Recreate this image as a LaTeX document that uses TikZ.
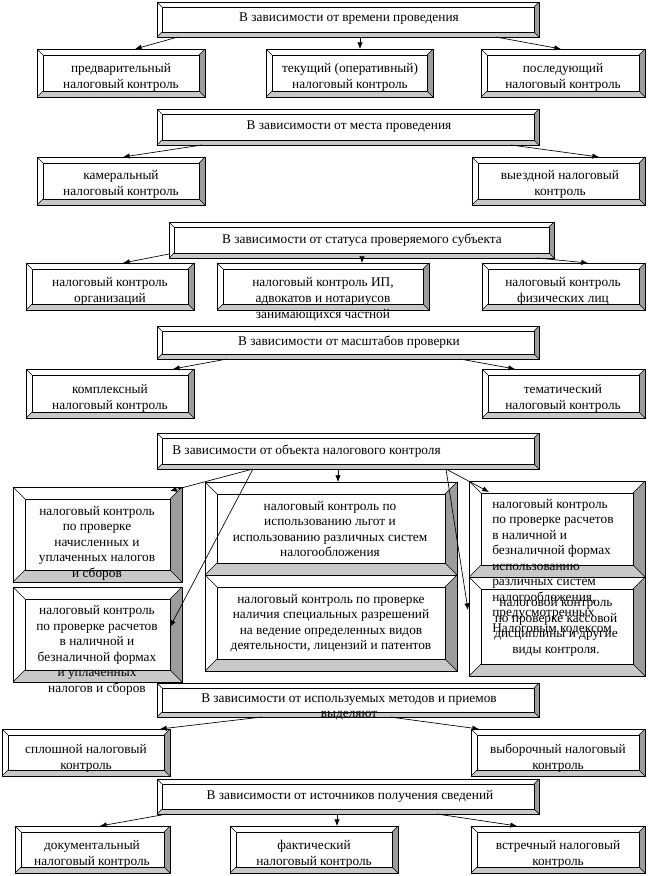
\documentclass[tikz,border=0pt]{standalone}
\usepackage{fontspec}
\setmainfont{Liberation Serif}
\usetikzlibrary{arrows.meta,calc,fit}
\definecolor{bdark}{HTML}{9C9C9C}
\definecolor{blight}{HTML}{C8C8C8}
\tikzset{
  frame/.style={draw, fill=white, inner sep=0pt, outer sep=0pt, line width=0.6pt},
  txt/.style={inner sep=0pt, align=center, font=\fontsize{10}{12}\selectfont},
  txtf/.style={inner sep=0pt, align=center, font=\fontsize{10}{11.6}\selectfont},
  arr/.style={-{Latex[length=5pt,width=4pt]}, line width=0.5pt},
}
\newcommand\bbox[6]{%
  \node[frame, fit={(#2,#3) (#4,#5)}] (#1) {};
  \fill[bdark] (#1.north east) -- (#1.south east) -- ++(-#6,-#6) -- ($(#1.north east)+(-#6,#6)$) -- cycle;
  \fill[blight] (#1.south west) -- (#1.south east) -- ++(-#6,-#6) -- ($(#1.south west)+(#6,-#6)$) -- cycle;
  \draw[line width=0.6pt] ($(#1.north west)+(#6,#6)$) rectangle ($(#1.south east)+(-#6,-#6)$);
  \draw[line width=0.5pt] (#1.north west) -- ++(#6,#6) (#1.north east) -- ++(-#6,#6)
        (#1.south west) -- ++(#6,-#6) (#1.south east) -- ++(-#6,-#6);
  \draw[line width=0.6pt] (#1.north west) rectangle (#1.south east);
}
\begin{document}
\begin{tikzpicture}[x=0.75pt,y=-0.75pt]
\useasboundingbox (0,0) rectangle (652,876);
% ---------- boxes ----------
\bbox{h1}{157}{2}{539}{37}{5}
\bbox{a1}{37}{49}{205}{97}{6}
\bbox{a2}{266}{49}{433}{97}{6}
\bbox{a3}{481}{49}{645}{97}{6}
\bbox{h2}{157}{109}{539}{145}{5}
\bbox{b1}{37}{157}{205}{205}{6}
\bbox{b2}{472}{157}{645}{205}{6}
\bbox{h3}{169}{222}{554}{258}{5}
\bbox{c1}{26}{263}{194}{310}{6}
\bbox{c2}{217}{263}{429}{310}{6}
\bbox{c3}{482}{263}{645}{310}{6}
\bbox{h4}{157}{326}{539}{359}{5}
\bbox{d1}{26}{369}{194}{418}{6}
\bbox{d2}{482}{369}{645}{418}{6}
\bbox{h5}{157}{433}{539}{469}{5}
\bbox{e1}{13}{487}{182}{582}{12}
\bbox{e2}{13}{587}{182}{682}{12}
\bbox{m1}{205}{482}{457}{575}{12}
\bbox{m2}{205}{575}{457}{671}{12}
\bbox{r1}{469}{481}{645}{577}{12}
\bbox{r2}{469}{577}{645}{676}{12}
\bbox{h6}{157}{683}{539}{717}{5}
\bbox{f1}{2}{729}{170}{776}{6}
\bbox{f2}{471}{729}{645}{776}{6}
\bbox{h7}{157}{779}{539}{814}{5}
\bbox{g1}{15}{826}{170}{873}{6}
\bbox{g2}{230}{826}{398}{873}{6}
\bbox{g3}{471}{826}{645}{873}{6}
% ---------- texts ----------
\node[txt] (t-h1) at (349,19) {В зависимости от времени проведения};
\node[txt] (t-a1) at (121,77) {предварительный\\налоговый контроль};
\node[txt] (t-a2) at (350,77) {текущий (оперативный)\\налоговый контроль};
\node[txt] (t-a3) at (563,77) {последующий\\налоговый контроль};
\node[txt] (t-h2) at (349,127) {В зависимости от места проведения};
\node[txt] (t-b1) at (121,184.5) {камеральный\\налоговый контроль};
\node[txt] (t-b2) at (560,184.5) {выездной налоговый\\контроль};
\node[txt] (t-h3) at (362,240) {В зависимости от статуса проверяемого субъекта};
\node[txt] (t-c1) at (110,291) {налоговый контроль\\организаций};
\node[txt] (t-c2) at (323,299) {налоговый контроль ИП,\\адвокатов и нотариусов\\занимающихся частной};
\node[txt] (t-c3) at (563,291) {налоговый контроль\\физических лиц};
\node[txt] (t-h4) at (349,342) {В зависимости от масштабов проверки};
\node[txt] (t-d1) at (110,398.5) {комплексный\\налоговый контроль};
\node[txt] (t-d2) at (563,398.5) {тематический\\налоговый контроль};
\node[txt, anchor=west] (t-h5) at (172,451) {В зависимости от объекта налогового контроля};
\node[txtf] (t-e1) at (97,543) {налоговый контроль\\по проверке\\начисленных и\\уплаченных налогов\\и сборов};
\node[txtf] (t-e2) at (97,650.5) {налоговый контроль\\по проверке расчетов\\в наличной и\\безналичной формах\\и уплаченных\\налогов и сборов};
\node[txtf] (t-m1) at (330,529) {налоговый контроль по\\использованию льгот и\\использованию различных систем\\налогообложения};
\node[txtf] (t-m2) at (331,623) {налоговый контроль по проверке\\наличия специальных разрешений\\на ведение определенных видов\\деятельности, лицензий и патентов};
\node[txtf] (t-r2) at (556,627) {налоговой контроль\\по проверке кассовой\\дисциплины и другие\\виды контроля.};
\node[txtf, align=left, anchor=west] (t-r1) at (492,567) {налоговый контроль\\по проверке расчетов\\в наличной и\\безналичной формах\\использованию\\различных систем\\налогообложения,\\предусмотренных\\Налоговым кодексом};
\node[txtf] (t-h6) at (349,707) {В зависимости от используемых методов и приемов\\выделяют};
\node[txt] (t-f1) at (86,758) {сплошной налоговый\\контроль};
\node[txt] (t-f2) at (558,758) {выборочный налоговый\\контроль};
\node[txt] (t-h7) at (350,796) {В зависимости от источников получения сведений};
\node[txt] (t-g1) at (92,854) {документальный\\налоговый контроль};
\node[txt] (t-g2) at (314,854) {фактический\\налоговый контроль};
\node[txt] (t-g3) at (558,854) {встречный налоговый\\контроль};
% ---------- arrows ----------
\draw[arr] ($(h1.south west)+(21,0)$) -- ($(a1.north west)+(98,0)$);
\draw[arr] ($(h1.south west)+(203,0)$) -- ($(a2.north west)+(94,0)$);
\draw[arr] ($(h1.south west)+(339,0)$) -- ($(a3.north west)+(80,0)$);
\draw[arr] ($(h2.south west)+(45,0)$) -- ($(b1.north west)+(86,0)$);
\draw[arr] ($(h2.south west)+(354,0)$) -- ($(b2.north west)+(127,0)$);
\draw[arr] ($(h3.south west)+(0,-4)$) -- ($(c1.north west)+(97,0)$);
\draw[arr] ($(h3.south west)+(193,0)$) -- ($(c2.north west)+(145,0)$);
\draw[arr] ($(h3.south west)+(368,0)$) -- ($(c3.north west)+(106,0)$);
\draw[arr] ($(h4.south west)+(70,0)$) -- ($(d1.north west)+(147,0)$);
\draw[arr] ($(h4.south west)+(303,0)$) -- ($(d2.north west)+(33,0)$);
\draw[arr] ($(h5.south west)+(96,0)$) -- ($(e1.north east)+(-12,4)$);
\draw[arr] ($(h5.south west)+(96,0)$) -- ($(e2.north east)+(-12,40)$);
\draw[arr] ($(h5.south west)+(181,0)$) -- ($(m1.north west)+(133,0)$);
\draw[arr] ($(h5.south west)+(289,0)$) -- ($(r1.north west)+(20,11)$);
\draw[arr] ($(h5.south west)+(289,0)$) -- ($(r2.north west)+(-1,33)$);
\draw[arr] ($(h6.south west)+(105,0)$) -- ($(f1.north east)+(-10,0)$);
\draw[arr] ($(h6.south west)+(233,0)$) -- ($(f2.north west)+(8,0)$);
\draw[arr] ($(h7.south west)+(10,0)$) -- ($(g1.north west)+(85,0)$);
\draw[arr] ($(h7.south west)+(180,0)$) -- ($(g2.north west)+(107,0)$);
\draw[arr] ($(h7.south west)+(280,0)$) -- ($(g3.north west)+(46,0)$);
\end{tikzpicture}
\end{document}
